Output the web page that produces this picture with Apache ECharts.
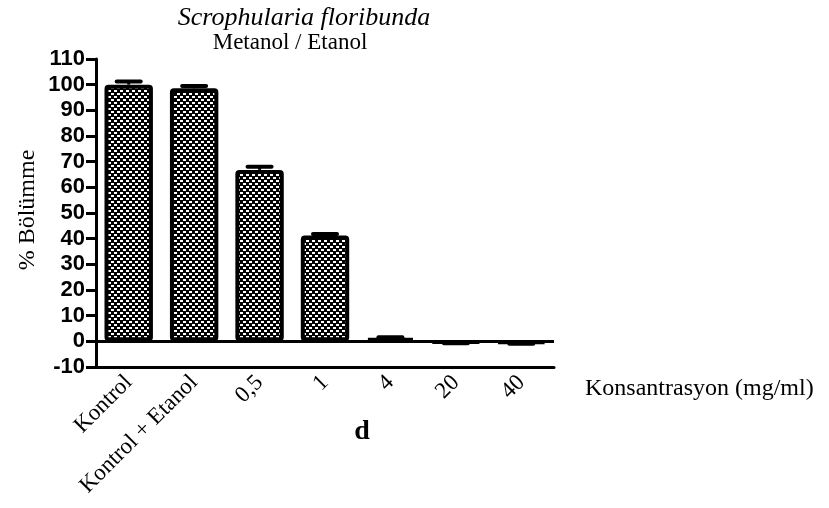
<!DOCTYPE html>
<html>
<head>
<meta charset="utf-8">
<script src="https://cdn.jsdelivr.net/npm/echarts@6/dist/echarts.min.js"></script>
<style>
  html, body { margin: 0; padding: 0; background: #fff; }
  #chart { width: 829px; height: 508px; }
</style>
</head>
<body>
<div id="chart"></div>
<script>
// data
const categories = ['Kontrol', 'Kontrol + Etanol', '0,5', '1', '4', '20', '40']
const meanValues = [100, 98.6, 66.8, 41.2, 1.3, -0.5, -0.7]
const errValues = [1.2, 0.9, 1.2, 0.6, 0.3, 0.2, 0.2]
const yTicks = { min: -10, max: 110, step: 10 }

// checker tile for the bar fill (a bit darker than 50%)
function makePattern () {
  let c = document.createElement('canvas')
  c.width = 6
  c.height = 6
  let ctx = c.getContext('2d')
  ctx.fillStyle = '#000'
  ctx.fillRect(0, 0, 6, 6)
  ctx.fillStyle = '#fff'
  ctx.fillRect(0, 0, 3, 2)
  ctx.fillRect(3, 3, 3, 2)
  return c
}

let chart = echarts.init(document.getElementById('chart'))
const serif = '"Liberation Serif", "DejaVu Serif", serif'

chart.setOption({
  animation: false,
  title: [
    {
      text: 'Scrophularia floribunda',
      left: 299, top: 0, textAlign: 'center',
      textStyle: { fontFamily: serif, fontStyle: 'italic', fontWeight: 'normal', fontSize: 26, color: '#000' }
    },
    {
      text: 'Metanol / Etanol',
      left: 285, top: 26, textAlign: 'center',
      textStyle: { fontFamily: serif, fontWeight: 'normal', fontSize: 23, color: '#000' }
    },
    {
      text: 'd',
      left: 357, top: 413, textAlign: 'center',
      textStyle: { fontFamily: serif, fontWeight: 'bold', fontSize: 28, color: '#000' }
    },
    {
      text: 'Konsantrasyon (mg/ml)',
      left: 580, top: 372,
      textStyle: { fontFamily: serif, fontWeight: 'normal', fontSize: 24, color: '#000' }
    }
  ],
  graphic: [
    {
      type: 'text',
      x: 28, y: 210,
      rotation: Math.PI / 2,
      style: {
        text: '% Bölümme',
        font: '24px "Liberation Serif", serif',
        fill: '#000',
        textAlign: 'center',
        textVerticalAlign: 'middle'
      }
    }
  ],
  grid: { left: 96, right: 275, top: 59, bottom: 141, containLabel: false },
  xAxis: {
    type: 'category',
    data: categories,
    position: 'bottom',
    axisLine: { onZero: false, lineStyle: { color: '#000', width: 3, cap: 'round' } },
    axisTick: { alignWithLabel: true, length: 9, lineStyle: { color: '#000', width: 3 } },
    axisLabel: {
      rotate: 45, margin: 12, interval: 0,
      fontFamily: serif, fontSize: 23, color: '#000'
    }
  },
  yAxis: {
    type: 'value',
    min: yTicks.min, max: yTicks.max, interval: yTicks.step,
    splitLine: { show: false },
    axisLine: { show: true, lineStyle: { color: '#000', width: 3 } },
    axisTick: { show: true, length: 10, lineStyle: { color: '#000', width: 3 } },
    axisLabel: {
      margin: 11,
      fontFamily: '"Liberation Sans", Arial, sans-serif', fontWeight: 'bold',
      fontSize: 22, color: '#000'
    }
  },
  series: [
    {
      type: 'bar',
      data: meanValues,
      barCategoryGap: '26%',
      itemStyle: {
        color: { image: makePattern(), repeat: 'repeat' },
        borderColor: '#000',
        borderWidth: 4,
        borderRadius: 2
      },
      markLine: {
        silent: true,
        symbol: 'none',
        label: { show: false },
        lineStyle: { color: '#000', width: 3, type: 'solid' },
        data: [{ yAxis: 0 }]
      }
    },
    {
      type: 'custom',
      data: meanValues.map((v, i) => [i, v, v + (v >= 0 ? errValues[i] : -errValues[i])]),
      renderItem: function (params, api) {
        let base = api.coord([api.value(0), api.value(1)])
        let tip = api.coord([api.value(0), api.value(2)])
        let half = 12
        return {
          type: 'group',
          children: [
            { type: 'line', shape: { x1: base[0], y1: base[1], x2: tip[0], y2: tip[1] }, style: { stroke: '#000', lineWidth: 3 } },
            { type: 'line', shape: { x1: tip[0] - half, y1: tip[1], x2: tip[0] + half, y2: tip[1] }, style: { stroke: '#000', lineWidth: 4, lineCap: 'round' } }
          ]
        }
      },
      z: 3
    }
  ]
})
</script>
</body>
</html>
